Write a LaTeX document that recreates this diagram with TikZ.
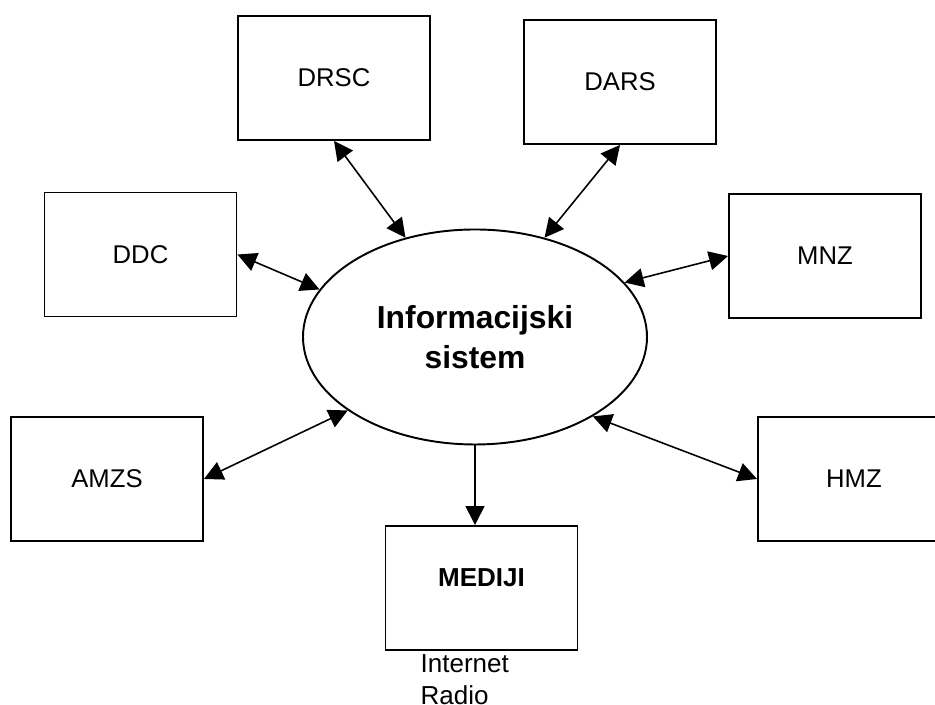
\documentclass[tikz,border=0pt]{standalone}
\usepackage{fontspec}
\setmainfont{Liberation Sans}
\usetikzlibrary{arrows.meta,positioning,shapes.geometric}

\begin{document}
\begin{tikzpicture}[
  obox/.style={rectangle, draw=black, line width=0.55pt, minimum width=1.92cm,
    minimum height=1.24cm, inner sep=0pt, font=\fontsize{7.3}{8.8}\selectfont},
  sysell/.style={ellipse, draw=black, line width=0.55pt, minimum width=3.44cm,
    minimum height=2.15cm, inner sep=0pt, align=center,
    font=\fontsize{9.05}{11.4}\selectfont\bfseries},
  link/.style={line width=0.45pt,
    {Triangle[length=1.9mm,width=1.9mm]}-{Triangle[length=1.9mm,width=1.9mm]}},
  feed/.style={line width=0.45pt, -{Triangle[length=1.9mm,width=1.9mm]}}
]
  \useasboundingbox (0,0) rectangle (9.35,7.05);

  \node[sysell] (is) at (4.75,3.68) {Informacijski\\sistem};

  \node[obox] (drsc) at (3.34,6.27) {DRSC};
  \node[obox] (dars) at (6.20,6.23) {DARS};
  \node[obox] (ddc) at (1.405,4.505) {DDC};
  \node[obox] (mnz) at (8.25,4.49) {MNZ};
  \node[obox] (amzs) at (1.07,2.26) {AMZS};
  \node[obox] (hmz) at (8.54,2.26) {HMZ};
  \node[obox, font=\fontsize{7.4}{8.8}\selectfont\bfseries, text depth=2mm]
    (mediji) at (4.815,1.17) {MEDIJI};
  \node[anchor=north west, inner sep=0pt, align=left,
    font=\fontsize{7.4}{9.0}\selectfont] (kanali) at (4.20,0.51) {Internet\\Radio};

  \draw[link] (drsc.south) -- (is.125);
  \draw[link] (dars.south) -- (is.55);
  \draw[link] (ddc.east) -- (is.163);
  \draw[link] (is.20) -- (mnz.west);
  \draw[link] (amzs.east) -- (is.210);
  \draw[link] (is.326) -- (hmz.west);
  \draw[feed] (is.south) -- (is.south |- mediji.north);
\end{tikzpicture}
\end{document}
